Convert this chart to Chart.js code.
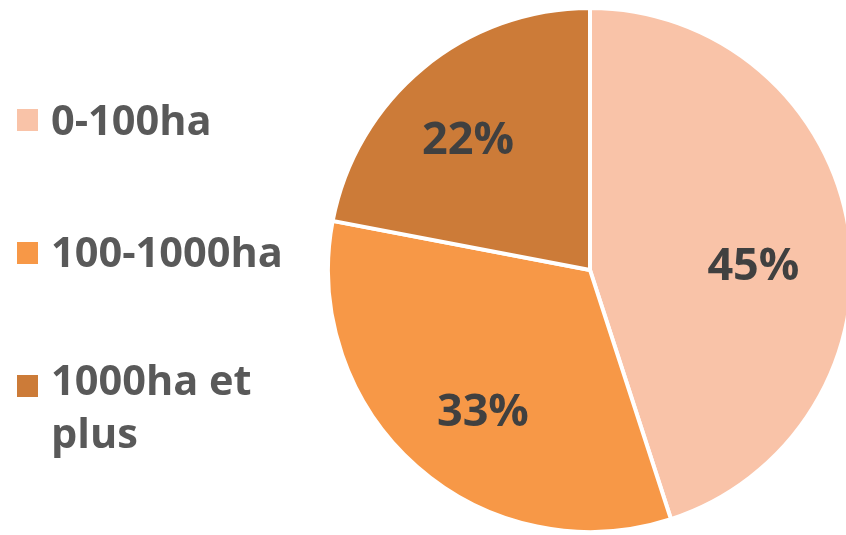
<!DOCTYPE html>
<html>
<head>
<meta charset="utf-8">
<script src="https://cdn.jsdelivr.net/npm/chart.js@4.4.1/dist/chart.umd.min.js"></script>
<style>
  html, body { margin: 0; padding: 0; background: #fff; overflow: hidden; }
  #wrap { position: relative; width: 860px; height: 535px; }
  #legende { position: absolute; left: 0; top: 0; font-family: "Open Sans", sans-serif; font-weight: 700; font-size: 41.5px; color: #595959; }
  .item { position: absolute; left: 51px; width: 260px; line-height: 53px; white-space: nowrap; }
  .box { position: absolute; left: 17px; width: 21px; height: 22px; }
</style>
</head>
<body>
<div id="wrap">
  <canvas id="taart"></canvas>
  <div id="legende"></div>
</div>
<script>
// Data
const labels = ["0-100ha", "100-1000ha", "1000ha et plus"];
const waarden = [45, 33, 22];
const kleuren = ["#F9C3A8", "#F79847", "#CC7B38"];

// opmaak
const LEGENDE_TOP = [93, 225, 353];
const BOX_TOP = [109, 242, 375];
const LABEL_NUDGE = [[-10, 21], [9, 8], [-10, 3]];
const LABEL_FONT = 45;

// procentlabels in de taart
const procentPlugin = {
    id: 'procenten',
    afterDatasetsDraw(chart) {
        const ctx = chart.ctx;
        const meta = chart.getDatasetMeta(0);
        const totaal = waarden.reduce((a, b) => a + b, 0);
        ctx.save();
        ctx.font = `700 ${LABEL_FONT}px "Open Sans", sans-serif`;
        ctx.fillStyle = "#404040";
        ctx.textAlign = "center";
        ctx.textBaseline = "alphabetic";
        meta.data.forEach((arc, i) => {
            const p = arc.getProps(['x', 'y', 'startAngle', 'endAngle', 'outerRadius'], true);
            const mid = (p.startAngle + p.endAngle) / 2;
            const r = p.outerRadius * 0.67;
            const tekst = Math.round(waarden[i] / totaal * 100) + "%";
            const x = p.x + Math.cos(mid) * r + LABEL_NUDGE[i][0];
            const y = p.y + Math.sin(mid) * r + LABEL_NUDGE[i][1];
            ctx.fillText(tekst, x, y + LABEL_FONT * 0.357);
        });
        ctx.restore();
    }
};

new Chart(document.getElementById('taart'), {
    type: 'pie',
    data: {
        labels: labels,
        datasets: [{ data: waarden, backgroundColor: kleuren, borderColor: '#ffffff', borderWidth: 4 }]
    },
    options: {
        responsive: true,
        maintainAspectRatio: false,
        animation: false,
        layout: { padding: { left: 326, right: 6, top: 6, bottom: 1 } },
        plugins: { legend: { display: false }, tooltip: { enabled: false } }
    },
    plugins: [procentPlugin]
});

// HTML legende
const legende = document.getElementById('legende');
labels.forEach((l, i) => {
    const box = document.createElement('span');
    box.className = 'box';
    box.style.top = BOX_TOP[i] + 'px';
    box.style.background = kleuren[i];
    legende.appendChild(box);

    const item = document.createElement('div');
    item.className = 'item';
    item.style.top = LEGENDE_TOP[i] + 'px';
    item.innerHTML = l === "1000ha et plus" ? "1000ha et<br>plus" : l;
    legende.appendChild(item);
});
</script>
</body>
</html>
